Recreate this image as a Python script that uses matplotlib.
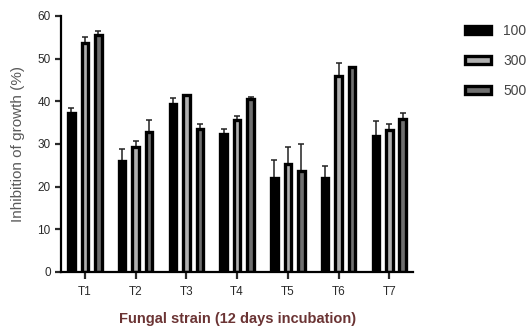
import numpy as np
import matplotlib
matplotlib.use("Agg")
import matplotlib.pyplot as plt

strains = ["T1", "T2", "T3", "T4", "T5", "T6", "T7"]
doses = ["100", "300", "500"]

mean_100 = [37.2, 25.9, 39.3, 32.4, 21.9, 21.9, 31.8]
mean_300 = [53.6, 29.3, 41.5, 35.7, 25.2, 45.9, 33.2]
mean_500 = [55.5, 32.8, 33.6, 40.5, 23.7, 48.1, 35.8]

err_100 = [1.2, 2.8, 1.4, 1.2, 4.3, 2.9, 3.5]
err_300 = [1.4, 1.3, 0.0, 0.8, 4.1, 3.1, 1.4]
err_500 = [1.0, 2.9, 1.0, 0.5, 6.2, 0.0, 1.5]

fills = ["#000000", "#b0b0b0", "#707070"]


def main():
    plt.rcParams["font.family"] = ["Liberation Sans", "DejaVu Sans"]
    fig = plt.figure(figsize=(5.31, 3.32), dpi=100)
    ax = fig.add_axes([0.115, 0.181, 0.663, 0.771])

    x = np.arange(1, len(strains) + 1)
    step = 0.265
    means = [mean_100, mean_300, mean_500]
    errs = [err_100, err_300, err_500]
    for i, (m, e) in enumerate(zip(means, errs)):
        pos = x + (i - 1) * step
        ax.bar(pos, m, width=0.13, color=fills[i], edgecolor="black",
               linewidth=2.4, label=doses[i], zorder=2)
        ax.errorbar(pos, m, yerr=[np.zeros(len(e)), e], fmt="none",
                    ecolor="#222222", elinewidth=1.1, capsize=2.5,
                    capthick=1.1, zorder=1)

    ax.set_xlim(0.53, 7.47)
    ax.set_ylim(0, 60)
    ax.set_yticks(range(0, 61, 10))
    ax.set_xticks(x)
    ax.set_xticklabels(strains)
    for side in ["top", "right"]:
        ax.spines[side].set_visible(False)
    for side in ["left", "bottom"]:
        ax.spines[side].set_linewidth(1.6)
    ax.tick_params(axis="both", width=1.6, length=4, labelsize=8.5,
                   colors="#2a2a2a")
    ax.tick_params(axis="x", length=5, pad=5)

    ax.set_ylabel("Inhibition of growth (%)", fontsize=11, color="#5a5a5a",
                  labelpad=9)
    ax.set_xlabel("Fungal strain (12 days incubation)", fontsize=10.5,
                  color="#6b3434", fontweight="bold", labelpad=10)

    leg = fig.legend(loc="upper left", bbox_to_anchor=(0.876, 0.929),
                     bbox_transform=fig.transFigure, frameon=False,
                     fontsize=10, handlelength=1.87, handleheight=0.5,
                     labelspacing=1.15, handletextpad=0.86,
                     borderpad=0, borderaxespad=0)
    for t in leg.get_texts():
        t.set_color("#444444")

    fig.savefig("out.png", dpi=100)


if __name__ == '__main__':
    main()
